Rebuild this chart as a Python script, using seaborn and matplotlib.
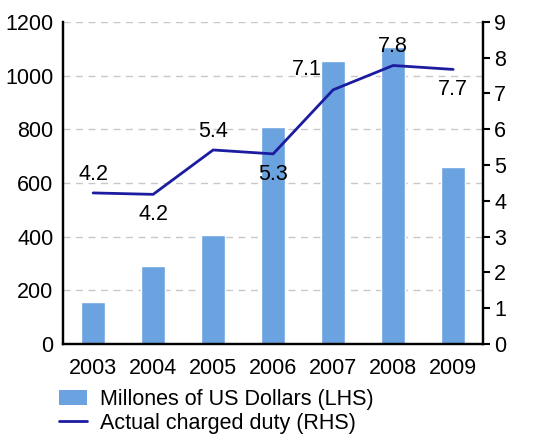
import matplotlib
matplotlib.use("Agg")
import matplotlib.pyplot as plt
from matplotlib.patches import Patch
from matplotlib.lines import Line2D
import seaborn as sns

years = ["2003", "2004", "2005", "2006", "2007", "2008", "2009"]
millions_usd = [156, 291, 406, 809, 1055, 1107, 660]
duty = [4.22, 4.18, 5.42, 5.31, 7.10, 7.78, 7.67]
duty_labels = ["4.2", "4.2", "5.4", "5.3", "7.1", "7.8", "7.7"]
label_pos = ["above", "below", "above", "below", "left", "above", "below"]

bar_color = "#6aa3df"
line_color = "#1c1ca0"

sns.set_style("white")
plt.rcParams["font.family"] = ["Liberation Sans", "DejaVu Sans"]
plt.rcParams["text.color"] = "black"
plt.rcParams["xtick.color"] = "black"
plt.rcParams["ytick.color"] = "black"
fs = 15.5

fig = plt.figure(figsize=(5.49, 4.36), dpi=100)
ax = fig.add_axes([0.115, 0.211, 0.765, 0.739])

sns.barplot(x=years, y=millions_usd, color=bar_color, width=0.4,
            saturation=1, ax=ax, zorder=2)
ax.set_ylim(0, 1200)
ax.set_yticks(range(0, 1201, 200))
ax.set_xlim(-0.5, 6.5)
ax.grid(axis="y", color="#c8c8c8", linestyle=(0, (5, 4)), linewidth=1, zorder=0)
ax.set_axisbelow(True)

ax2 = ax.twinx()
sns.pointplot(x=years, y=duty, color=line_color, marker="", linewidth=2,
              ax=ax2)
ax2.set_ylim(0, 9)
ax2.set_yticks(range(0, 10))
ax2.set_xlim(-0.5, 6.5)

# data labels on the line
for i, (v, t, p) in enumerate(zip(duty, duty_labels, label_pos)):
    if p == "above":
        ax2.annotate(t, (i, v), xytext=(0, 6), textcoords="offset points",
                     ha="center", va="bottom", fontsize=fs)
    elif p == "below":
        ax2.annotate(t, (i, v), xytext=(0, -7), textcoords="offset points",
                     ha="center", va="top", fontsize=fs)
    else:
        ax2.annotate(t, (i, v), xytext=(-8, 7), textcoords="offset points",
                     ha="right", va="bottom", fontsize=fs)

for a in (ax, ax2):
    for s in a.spines.values():
        s.set_color("black")
        s.set_linewidth(1.6)
    a.spines["top"].set_visible(False)
    a.set_xlabel("")
    a.set_ylabel("")

ax.tick_params(axis="y", length=0, labelsize=fs, pad=7)
ax.tick_params(axis="x", length=0, labelsize=fs, pad=10)
ax2.tick_params(axis="y", direction="out", length=5, width=1.5,
                labelsize=fs, pad=3)

handles = [Patch(facecolor=bar_color, edgecolor="none"),
           Line2D([0], [0], color=line_color, linewidth=2)]
fig.legend(handles, ["Millones of US Dollars (LHS)", "Actual charged duty (RHS)"],
           loc="lower left", bbox_to_anchor=(0.08, -0.03), frameon=False,
           fontsize=fs, handlelength=1.3, handletextpad=0.6, labelspacing=0.15,
           borderpad=0.2)

fig.savefig("out.png", dpi=100)
